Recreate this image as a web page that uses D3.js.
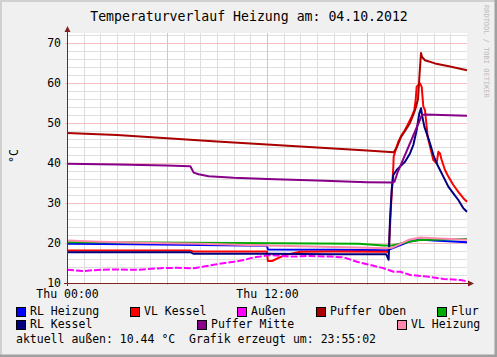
<!DOCTYPE html>
<html>
<head>
<meta charset="utf-8">
<script src="https://cdn.jsdelivr.net/npm/d3@7.9.0/dist/d3.min.js"></script>
<style>
  body { margin: 0; background: #f0f0f0; }
  svg text { font-family: "DejaVu Sans Mono", monospace; fill: #000; }
</style>
</head>
<body>
<svg id="chart" width="497" height="357"></svg>
<script>
// values, [hour of day, °C]
const rlHeizung = [[0,19.8],[4,19.7],[8,19.5],[12,19.3],[12.05,18.4],[16,18.3],[19.2,18.2],[19.4,18.5],[20,19.5],[20.5,20.3],[21.2,20.9],[22,20.6],[24,20.2]];
const vlKessel = [[0,18.1],[7.4,18.1],[7.6,17.9],[12,17.9],[12.05,15.5],[12.3,15.5],[12.7,16.3],[13.1,17],[14,17.8],[16,17.9],[19.2,17.8],[19.3,17.5],[19.45,30],[19.58,39.1],[19.6,41.6],[19.78,44.1],[19.88,45.3],[20.08,47],[20.28,48.25],[20.48,49.9],[20.68,51.6],[20.84,53.25],[20.92,55.75],[20.98,59.1],[21.08,59.5],[21.18,59.9],[21.28,59.1],[21.38,54.1],[21.48,53.25],[21.54,50.75],[21.64,46.6],[21.78,44.1],[21.98,40.75],[22.18,39.9],[22.28,42.8],[22.38,42.4],[22.48,40.75],[22.68,38.25],[22.88,36.6],[23.18,34.5],[23.48,32.8],[23.78,31.2],[24,30.3]];
const aussen = [[0,13.3],[1,13.0],[1.6,13.2],[2.6,13.4],[4.2,13.3],[5.6,13.7],[6.6,13.8],[7.6,13.7],[8.2,14.1],[9,14.7],[10,15.3],[10.6,15.75],[11.2,16.4],[11.6,16.6],[12.1,17],[13.4,16.6],[14.6,16.75],[15.8,16.6],[16.6,16.4],[17.4,15.3],[18.2,14.5],[19,13.7],[19.6,12.8],[20,12.8],[20.6,12],[21.6,11.6],[22.6,11],[23.6,10.75],[24,10.45]];
const pufferOben = [[0,47.5],[3,47.0],[6,46.2],[9,45.4],[12,44.6],[15,43.9],[18,43.1],[19.6,42.7],[19.8,44],[20.04,46.5],[20.28,48],[20.58,50],[20.82,52.5],[20.94,54],[21.06,56],[21.15,62],[21.24,67.5],[21.3,66.5],[21.48,65.7],[22.08,64.9],[22.98,64.1],[24,63.2]];
const flur = [[0,20.2],[5,20.1],[10,20.0],[15,19.9],[17.5,19.8],[19,19.4],[19.5,19.4],[20.5,20.3],[21.2,20.75],[24,21]];
const rlKessel = [[0,17.7],[7.4,17.7],[7.6,17.3],[12,17.3],[16,17.2],[19.15,17.2],[19.3,15.8],[19.38,25.8],[19.48,33.2],[19.58,37],[19.78,38.25],[19.98,39.1],[20.28,40.3],[20.58,42.4],[20.78,44.5],[20.98,48.25],[21.14,52.4],[21.24,53.7],[21.32,51.6],[21.44,49.1],[21.58,47.4],[21.78,44.9],[21.98,42],[22.18,39.9],[22.38,38.25],[22.58,36.6],[22.88,34.1],[23.18,32.4],[23.48,30.75],[23.78,28.7],[24,27.8]];
const pufferMitte = [[0,39.8],[3,39.6],[6,39.4],[7.4,39.2],[7.6,37.6],[7.9,37.2],[8.5,36.7],[10,36.3],[12,36],[15,35.6],[18,35.2],[19.5,35.1],[19.65,35.3],[19.85,37.8],[21.3,52],[21.5,52.1],[24,51.8]];
const vlHeizung = [[0,20.6],[2,20.3],[5,20.0],[8,19.8],[12,19.4],[16,19.0],[19.2,18.7],[19.5,18.8],[20,19.8],[20.5,20.8],[21.2,21.4],[22,21.2],[24,20.8]];

const series = [
  { name: 'RL Heizung', color: '#0000ff', data: rlHeizung },
  { name: 'VL Kessel', color: '#ff0000', data: vlKessel },
  { name: 'Außen', color: '#ff00ff', data: aussen, dash: '7,2' },
  { name: 'Puffer Oben', color: '#aa0000', data: pufferOben },
  { name: 'Flur', color: '#00aa00', data: flur },
  { name: 'RL Kessel', color: '#000080', data: rlKessel },
  { name: 'Puffer Mitte', color: '#880088', data: pufferMitte },
  { name: 'VL Heizung', color: '#ff88aa', data: vlHeizung }
];

const yTicks = [10, 20, 30, 40, 50, 60, 70];
const xTickLabels = [[0, 'Thu 00:00'], [12, 'Thu 12:00']];

const svg = d3.select('#chart');
const W = 497, H = 357;

// frame
svg.append('rect').attr('width', W).attr('height', H).attr('fill', '#f0f0f0');
svg.append('path').attr('d', `M0,${H} V0 H${W}`).attr('stroke', '#d0d0d0').attr('stroke-width', 4).attr('fill', 'none');
svg.append('path').attr('d', `M0,${H - 1} H${W - 1} V0`).attr('stroke', '#a0a0a0').attr('stroke-width', 3).attr('fill', 'none');

const x = d3.scaleLinear().domain([0, 24]).range([67, 467]);
const y = d3.scaleLinear().domain([10, 72.5]).range([283, 33]);

svg.append('rect')
  .attr('x', x(0)).attr('y', y(72.5))
  .attr('width', x(24) - x(0)).attr('height', y(10) - y(72.5))
  .attr('fill', '#fff');

const grid = svg.append('g').attr('shape-rendering', 'crispEdges');
// minor grid
d3.range(1, 24).filter(h => h % 6 !== 0).forEach(h => {
  grid.append('line').attr('x1', x(h) + 0.5).attr('x2', x(h) + 0.5)
    .attr('y1', y(72.5)).attr('y2', y(10)).attr('stroke', '#dedede');
});
d3.range(12, 73, 2).filter(v => v % 10 !== 0).forEach(v => {
  grid.append('line').attr('x1', x(0)).attr('x2', x(24))
    .attr('y1', Math.round(y(v)) + 0.5).attr('y2', Math.round(y(v)) + 0.5).attr('stroke', '#dedede');
});
// major grid
[6, 12, 18].forEach(h => {
  grid.append('line').attr('x1', x(h) + 0.5).attr('x2', x(h) + 0.5)
    .attr('y1', y(72.5)).attr('y2', y(10) + 2).attr('stroke', '#f3b5b5');
});
yTicks.slice(1).forEach(v => {
  grid.append('line').attr('x1', x(0) - 2).attr('x2', x(24))
    .attr('y1', Math.round(y(v)) + 0.5).attr('y2', Math.round(y(v)) + 0.5).attr('stroke', '#f3c0c0');
});

// lines
const line = d3.line().x(d => x(d[0])).y(d => y(d[1]));
series.forEach(s => {
  svg.append('path')
    .attr('d', line(s.data))
    .attr('fill', 'none')
    .attr('stroke', s.color)
    .attr('stroke-width', 2)
    .attr('stroke-linejoin', 'round')
    .attr('stroke-dasharray', s.dash || null);
});

// axes
const axisColor = '#802020';
svg.append('line').attr('x1', x(0) + 0.5).attr('x2', x(0) + 0.5).attr('y1', y(10) + 3).attr('y2', 31)
  .attr('stroke', axisColor).attr('shape-rendering', 'crispEdges');
svg.append('line').attr('x1', x(0) - 3).attr('x2', 469).attr('y1', y(10) + 0.5).attr('y2', y(10) + 0.5)
  .attr('stroke', axisColor).attr('shape-rendering', 'crispEdges');
svg.append('path').attr('d', `M${x(0) - 2.5},32 L${x(0) + 0.5},26 L${x(0) + 3.5},32 Z`).attr('fill', axisColor);
svg.append('path').attr('d', `M468,${y(10) - 2.5} L474,${y(10) + 0.5} L468,${y(10) + 3.5} Z`).attr('fill', axisColor);

// tick labels
svg.append('g').selectAll('text').data(yTicks).join('text')
  .attr('x', 61).attr('y', d => y(d) + 4)
  .attr('text-anchor', 'end').attr('font-size', 11.5)
  .text(d => d);

svg.append('g').selectAll('text').data(xTickLabels).join('text')
  .attr('x', d => x(d[0]) + 0.5).attr('y', 298)
  .attr('text-anchor', 'middle').attr('font-size', 11.5)
  .text(d => d[1]);

// title
svg.append('text').attr('x', 249).attr('y', 21).attr('text-anchor', 'middle')
  .attr('font-size', 13.2).text('Temperaturverlauf Heizung am: 04.10.2012');

// y label
svg.append('text').attr('transform', 'translate(18,156) rotate(-90)')
  .attr('text-anchor', 'middle').attr('font-size', 11.5).text('°C');

// watermark
svg.append('text').attr('transform', 'translate(484,5) rotate(90)')
  .attr('font-size', 7).style('fill', '#bdbdbd').text('RRDTOOL / TOBI OETIKER');

// legend
const legendPos = [[16, 314.5], [130, 314.5], [237, 314.5], [316, 314.5], [437, 314.5],
                   [16, 328], [197, 328], [397, 328]];
const legend = svg.append('g');
series.forEach((s, i) => {
  const [lx, ly] = legendPos[i];
  legend.append('rect').attr('x', lx + 0.5).attr('y', ly - 7.5).attr('width', 9).attr('height', 9)
    .attr('fill', s.color).attr('stroke', '#000').attr('stroke-width', 1).attr('shape-rendering', 'crispEdges');
  legend.append('text').attr('x', lx + 14).attr('y', ly).attr('font-size', 11.5).text(s.name);
});

svg.append('text').attr('x', 16).attr('y', 342.5).attr('font-size', 11.5)
  .attr('xml:space', 'preserve').style('white-space', 'pre')
  .text('aktuell außen: 10.44 °C  Grafik erzeugt um: 23:55:02');
</script>
</body>
</html>
